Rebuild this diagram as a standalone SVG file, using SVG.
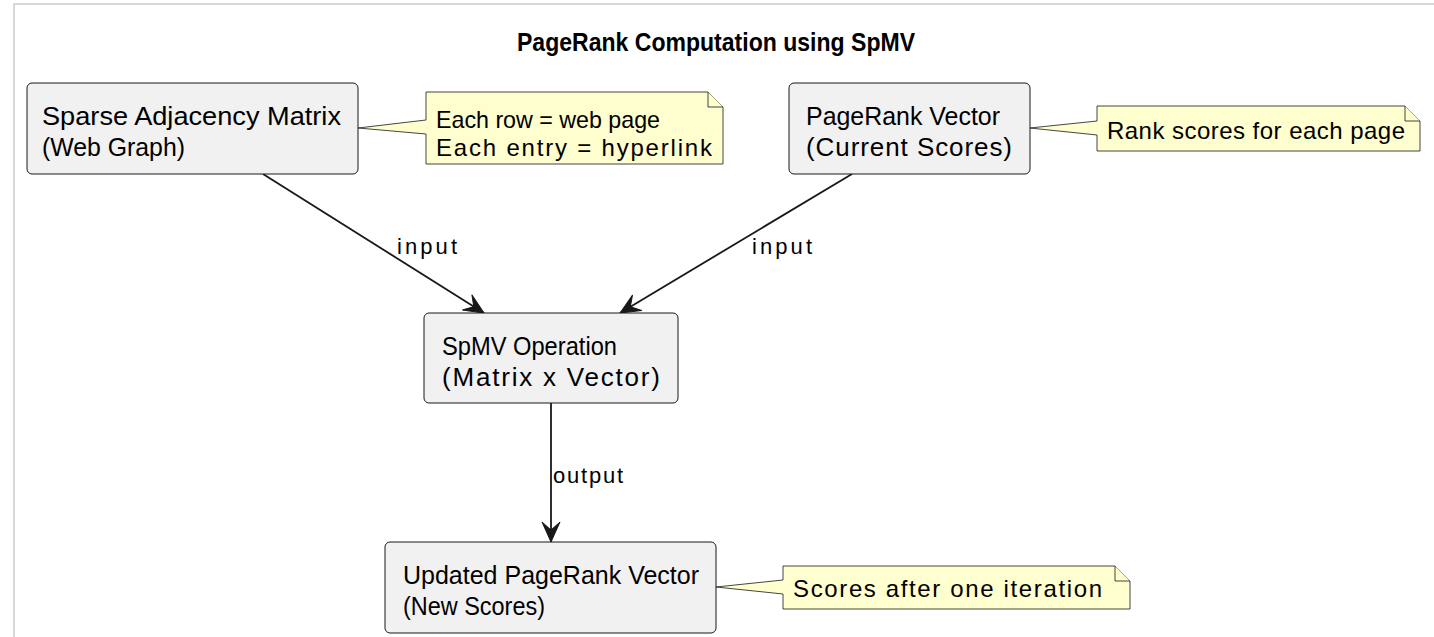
<svg xmlns="http://www.w3.org/2000/svg" width="1434" height="637" viewBox="0 0 1434 637">
<style>
.node{fill:#f1f1f1;stroke:#181818;stroke-width:1}
.note{fill:#fefece;stroke:#181818;stroke-width:0.8}
.t{font-family:"Liberation Sans",Arial,sans-serif;font-size:26px;fill:#000}
.nt{font-family:"Liberation Sans",Arial,sans-serif;font-size:24px;fill:#000}
.lbl{font-family:"Liberation Sans",Arial,sans-serif;font-size:22px;fill:#000}
.title{font-family:"Liberation Sans",Arial,sans-serif;font-size:26px;font-weight:bold;fill:#000}
.edge{stroke:#181818;stroke-width:1.8;fill:none}
</style>
<defs>
<marker id="arr" markerUnits="userSpaceOnUse" viewBox="-22 -11 24 22" refX="0" refY="0" markerWidth="24" markerHeight="22" orient="auto">
<path d="M0,0 L-20,-9 L-12,0 L-20,9 Z" fill="#181818" stroke="#181818" stroke-width="1"/>
</marker>
</defs>
<rect x="0" y="0" width="1434" height="637" fill="#fff"/>
<path d="M14,637 L14,4 L1434,4" fill="none" stroke="#cccccc" stroke-width="1.5"/>
<text class="title" x="716" y="51" text-anchor="middle" textLength="398" lengthAdjust="spacingAndGlyphs">PageRank Computation using SpMV</text>

<g id="connectors">
<line class="edge" x1="263" y1="174" x2="484" y2="313" marker-end="url(#arr)"/>
<text class="lbl" x="397" y="254" textLength="60" lengthAdjust="spacing">input</text>
<line class="edge" x1="852" y1="174" x2="620" y2="313" marker-end="url(#arr)"/>
<text class="lbl" x="752" y="254" textLength="60" lengthAdjust="spacing">input</text>
<line class="edge" x1="551" y1="403" x2="551" y2="542" marker-end="url(#arr)"/>
<text class="lbl" x="553" y="483" textLength="70" lengthAdjust="spacing">output</text>
</g>

<g id="node-matrix">
<rect class="node" x="27" y="83" width="331" height="91" rx="5"/>
<text class="t" x="42" y="125" textLength="299" lengthAdjust="spacingAndGlyphs">Sparse Adjacency Matrix</text>
<text class="t" x="42" y="156" textLength="143" lengthAdjust="spacingAndGlyphs">(Web Graph)</text>
</g>
<g id="note-matrix">
<path class="note" d="M426,92 L426,120 L358,128 L426,134 L426,164 L723,164 L723,107 L708,92 Z"/>
<path class="note" d="M708,92 L708,107 L723,107"/>
<text class="nt" x="436" y="128" textLength="224" lengthAdjust="spacingAndGlyphs">Each row = web page</text>
<text class="nt" x="436" y="156" textLength="276" lengthAdjust="spacing">Each entry = hyperlink</text>
</g>

<g id="node-vector">
<rect class="node" x="789" y="83" width="241" height="91" rx="5"/>
<text class="t" x="806" y="125" textLength="194" lengthAdjust="spacingAndGlyphs">PageRank Vector</text>
<text class="t" x="806" y="156" textLength="206" lengthAdjust="spacing">(Current Scores)</text>
</g>
<g id="note-vector">
<path class="note" d="M1097,106 L1097,121 L1030,128 L1097,135 L1097,151 L1420,151 L1420,121 L1405,106 Z"/>
<path class="note" d="M1405,106 L1405,121 L1420,121"/>
<text class="nt" x="1107" y="139" textLength="298" lengthAdjust="spacing">Rank scores for each page</text>
</g>

<g id="node-spmv">
<rect class="node" x="424" y="313" width="254" height="90" rx="5"/>
<text class="t" x="442" y="355" textLength="175" lengthAdjust="spacingAndGlyphs">SpMV Operation</text>
<text class="t" x="442" y="386" textLength="218" lengthAdjust="spacing">(Matrix x Vector)</text>
</g>

<g id="node-updated">
<rect class="node" x="385" y="542" width="331" height="91" rx="5"/>
<text class="t" x="403" y="584" textLength="296" lengthAdjust="spacingAndGlyphs">Updated PageRank Vector</text>
<text class="t" x="403" y="615" textLength="142" lengthAdjust="spacingAndGlyphs">(New Scores)</text>
</g>
<g id="note-updated">
<path class="note" d="M783,566 L783,580 L716,587 L783,594 L783,609 L1130,609 L1130,581 L1115,566 Z"/>
<path class="note" d="M1115,566 L1115,581 L1130,581"/>
<text class="nt" x="793" y="597" textLength="309" lengthAdjust="spacing">Scores after one iteration</text>
</g>
</svg>
